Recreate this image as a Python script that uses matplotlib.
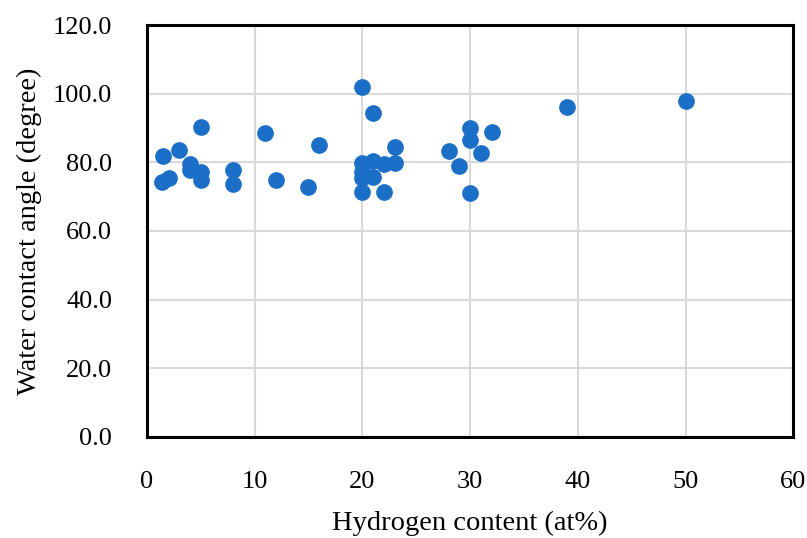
import numpy as np
import matplotlib.pyplot as plt

# hydrogen content (at%) and water contact angle (degree)
hydrogen = [1.5, 1.4, 2.1, 3.0, 4.0, 4.0, 5.0, 5.0, 5.0, 8.0, 8.0,
            11.0, 12.0, 15.0, 16.0,
            20.0, 20.0, 20.0, 20.0, 20.0, 21.0, 21.0, 21.0, 22.0, 22.0, 23.0, 23.0,
            28.0, 29.0, 30.0, 30.0, 30.0, 31.0, 32.0, 39.0, 50.0]
angle = [81.9, 74.4, 75.4, 83.6, 79.5, 77.8, 90.2, 77.1, 74.7, 77.8, 73.8,
         88.6, 74.7, 72.9, 85.1,
         102.0, 79.7, 77.3, 75.4, 71.4, 94.3, 80.5, 75.6, 79.5, 71.4, 79.7, 84.4,
         83.2, 78.8, 90.0, 86.6, 71.0, 82.6, 88.7, 96.1, 97.9]

x_ticks = [0, 10, 20, 30, 40, 50, 60]
y_ticks = [0, 20, 40, 60, 80, 100, 120]

plt.rcParams['font.family'] = ['Liberation Serif', 'DejaVu Serif']

fig = plt.figure(figsize=(8.07, 5.38), dpi=100)
ax = fig.add_axes([0.182, 0.188, 0.801, 0.7655])

ax.scatter(hydrogen, angle, s=145, color='#1B6FC6', zorder=3, linewidths=0)

ax.set_xlim(0, 60)
ax.set_ylim(0, 120)
ax.set_xticks(x_ticks)
ax.set_yticks(y_ticks)
ax.set_yticklabels(['%.1f' % v for v in y_ticks])
ax.grid(True, color='#d9d9d9', linewidth=1.5, zorder=0)
ax.set_axisbelow(True)
ax.tick_params(length=0, labelsize=19)
ax.tick_params(axis='x', pad=24.5)
ax.tick_params(axis='y', pad=25)

for sp in ax.spines.values():
    sp.set_color('black')
    sp.set_linewidth(2.2)

ax.set_xlabel('Hydrogen content (at%)', fontsize=20.5, labelpad=13)
ax.set_ylabel('Water contact angle (degree)', fontsize=20.5, labelpad=8)

plt.savefig('out.png', dpi=100)
